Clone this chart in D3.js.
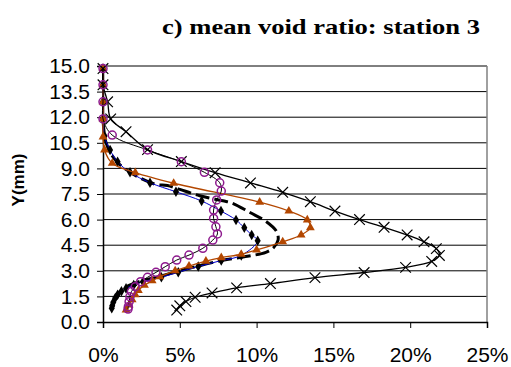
<!DOCTYPE html>
<html>
<head>
<meta charset="utf-8">
<script src="https://cdn.jsdelivr.net/npm/d3@7"></script>
<style>
  body { margin: 0; background: #fff; }
  svg { display: block; }
</style>
</head>
<body>
<svg id="vis" width="511" height="367"></svg>
<script>
// values: [void ratio %, Y mm]
const crossSeries = [
  [0.0, 14.85], [0.0, 13.9], [0.3, 12.9], [0.5, 11.9], [1.5, 11.15], [2.9, 10.1],
  [5.1, 9.4], [7.3, 8.75], [9.6, 8.15], [11.7, 7.6], [13.5, 7.05], [15.1, 6.5],
  [16.7, 6.0], [18.3, 5.55], [19.8, 5.1], [20.9, 4.7], [21.7, 4.3], [21.9, 3.9],
  [21.4, 3.55], [19.7, 3.2], [17.0, 2.9], [13.8, 2.6], [10.9, 2.25], [8.7, 2.0],
  [7.1, 1.7], [6.0, 1.45], [5.4, 1.2], [5.0, 0.95], [4.8, 0.7]
];
const circleSeries = [
  [0.0, 14.85], [0.0, 13.9], [0.0, 12.9], [0.0, 11.9], [0.6, 10.95], [2.9, 10.08],
  [5.1, 9.39], [6.6, 8.77], [7.6, 8.16], [7.7, 7.67], [7.4, 7.15], [7.2, 6.56],
  [7.2, 6.07], [7.35, 5.58], [7.45, 5.16], [7.15, 4.8], [6.5, 4.32], [5.6, 3.92],
  [4.8, 3.63], [4.05, 3.24], [3.45, 2.91], [2.9, 2.62], [2.45, 2.36], [2.1, 2.07],
  [1.85, 1.78], [1.75, 1.48], [1.7, 1.19], [1.65, 0.9], [1.63, 0.76]
];
const triangleSeries = [
  [0.0, 14.85], [0.0, 13.9], [0.0, 12.9], [0.0, 11.9], [0.0, 10.85], [0.1, 10.08],
  [0.6, 9.3], [2.1, 8.75], [4.6, 8.13], [10.2, 7.02], [12.1, 6.5], [13.3, 5.98],
  [13.5, 5.53], [12.9, 5.1], [11.7, 4.7], [10.0, 4.22], [9.0, 3.97], [7.7, 3.77],
  [6.7, 3.57], [5.6, 3.28], [4.7, 3.0], [3.7, 2.65], [3.2, 2.42], [2.7, 2.15],
  [2.3, 1.85], [2.1, 1.6], [1.9, 1.3], [1.7, 1.0], [1.5, 0.7]
];
const diamondSeries = [
  [0.0, 14.85], [0.0, 13.9], [0.0, 12.9], [0.0, 11.9], [0.1, 10.9], [0.46, 10.08],
  [0.95, 9.39], [1.76, 8.77], [3.06, 8.16], [4.75, 7.63], [6.42, 7.09], [7.68, 6.5],
  [8.66, 5.98], [9.2, 5.52], [9.68, 5.1], [10.07, 4.76], [9.0, 3.9], [7.7, 3.6],
  [6.2, 3.25], [4.9, 2.92], [3.8, 2.62], [2.6, 2.36], [2.0, 2.17], [1.5, 1.97],
  [1.2, 1.8], [0.95, 1.6], [0.8, 1.4], [0.67, 1.15], [0.6, 0.95], [0.57, 0.8]
];
const dashedSeries = [
  [0.0, 11.9], [0.2, 10.5], [0.8, 9.5], [1.8, 8.75], [3.4, 8.07], [4.2, 8.0],
  [5.0, 7.77], [6.3, 7.4], [7.8, 7.1], [8.4, 6.97], [9.6, 6.4], [10.6, 5.9],
  [11.3, 5.3], [11.4, 4.8], [11.1, 4.35], [10.6, 4.08], [9.4, 3.85], [7.8, 3.62],
  [6.2, 3.28], [4.8, 2.95], [3.6, 2.65], [2.4, 2.38], [1.5, 2.05], [1.0, 1.7],
  [0.75, 1.3], [0.65, 0.9]
];
const xTicks = [0, 5, 10, 15, 20, 25];
const yTicks = [0, 1.5, 3, 4.5, 6, 7.5, 9, 10.5, 12, 13.5, 15];

const svg = d3.select("#vis");

const plotLeft = 103, plotRight = 487, plotTop = 66, plotBottom = 322;

// SCALES
const x = d3.scaleLinear().domain([0, 25]).range([plotLeft, plotRight]);
const y = d3.scaleLinear().domain([0, 15]).range([plotBottom, plotTop]);

// title
svg.append("text")
  .attr("x", 162)
  .attr("y", 34)
  .attr("textLength", 318)
  .attr("lengthAdjust", "spacingAndGlyphs")
  .style("font-family", "'Liberation Serif', 'Times New Roman', serif")
  .style("font-weight", "bold")
  .style("font-size", "22px")
  .text("c) mean void ratio: station 3");

// y title
svg.append("text")
  .attr("transform", "translate(24,180) rotate(-90)")
  .attr("text-anchor", "middle")
  .style("font-family", "'Liberation Sans', Arial, sans-serif")
  .style("font-weight", "bold")
  .style("font-size", "17px")
  .text("Y(mm)");

// gridlines
svg.append("g")
  .selectAll("line")
  .data(yTicks.slice(1))
  .join("line")
  .attr("x1", plotLeft)
  .attr("x2", plotRight)
  .attr("y1", d => y(d))
  .attr("y2", d => y(d))
  .attr("stroke", "#000")
  .attr("stroke-width", 1);

// right border
svg.append("line")
  .attr("x1", plotRight).attr("x2", plotRight)
  .attr("y1", plotTop).attr("y2", plotBottom)
  .attr("stroke", "#808080")
  .attr("stroke-width", 1.5);

// axes
const xAxis = d3.axisBottom(x)
  .tickValues(xTicks)
  .tickSize(6)
  .tickPadding(19)
  .tickFormat(d => d + "%");
const yAxis = d3.axisLeft(y)
  .tickValues(yTicks)
  .tickSize(6)
  .tickPadding(7)
  .tickFormat(d3.format(".1f"));

svg.append("g")
  .attr("class", "axis")
  .attr("transform", `translate(0,${plotBottom})`)
  .call(xAxis);

svg.append("g")
  .attr("class", "axis")
  .attr("transform", `translate(${plotLeft},0)`)
  .call(yAxis);

svg.selectAll(".axis .domain").attr("stroke", "#000").attr("stroke-width", 1.5);
svg.selectAll(".axis line").attr("stroke", "#000");
svg.selectAll(".axis text")
  .attr("fill", "#000")
  .style("font-family", "'Liberation Sans', Arial, sans-serif")
  .style("font-size", "21px");

// lines
const line = d3.line()
  .x(d => x(d[0]))
  .y(d => y(d[1]))
  .curve(d3.curveCatmullRom.alpha(0.5));

const plot = svg.append("g");

plot.append("path")
  .datum(dashedSeries)
  .attr("d", line)
  .attr("fill", "none")
  .attr("stroke", "#000")
  .attr("stroke-width", 3)
  .attr("stroke-dasharray", "14,5");

plot.append("path")
  .datum(diamondSeries)
  .attr("d", line)
  .attr("fill", "none")
  .attr("stroke", "#0000cc")
  .attr("stroke-width", 1);

plot.append("g")
  .selectAll("path")
  .data(diamondSeries)
  .join("path")
  .attr("transform", d => `translate(${x(d[0])},${y(d[1])})`)
  .attr("d", d3.symbol(d3.symbolDiamond, 32))
  .attr("fill", "#000");

plot.append("path")
  .datum(triangleSeries)
  .attr("d", line)
  .attr("fill", "none")
  .attr("stroke", "#b34700")
  .attr("stroke-width", 1.3);

plot.append("g")
  .selectAll("path")
  .data(triangleSeries)
  .join("path")
  .attr("transform", d => `translate(${x(d[0])},${y(d[1])})`)
  .attr("d", d3.symbol(d3.symbolTriangle, 34))
  .attr("fill", "#b34700");

plot.append("path")
  .datum(crossSeries)
  .attr("d", line)
  .attr("fill", "none")
  .attr("stroke", "#000")
  .attr("stroke-width", 1.3);

plot.append("g")
  .selectAll("path")
  .data(crossSeries)
  .join("path")
  .attr("transform", d => `translate(${x(d[0])},${y(d[1])}) rotate(45)`)
  .attr("d", "M-7.5,0H7.5M0,-7.5V7.5")
  .attr("stroke", "#000")
  .attr("stroke-width", 1.2);

plot.append("path")
  .datum(circleSeries)
  .attr("d", line)
  .attr("fill", "none")
  .attr("stroke", "#000")
  .attr("stroke-width", 1);

plot.append("g")
  .selectAll("circle")
  .data(circleSeries)
  .join("circle")
  .attr("cx", d => x(d[0]))
  .attr("cy", d => y(d[1]))
  .attr("r", 4)
  .attr("fill", "none")
  .attr("stroke", "#8e1a8e")
  .attr("stroke-width", 1.5);
</script>
</body>
</html>
